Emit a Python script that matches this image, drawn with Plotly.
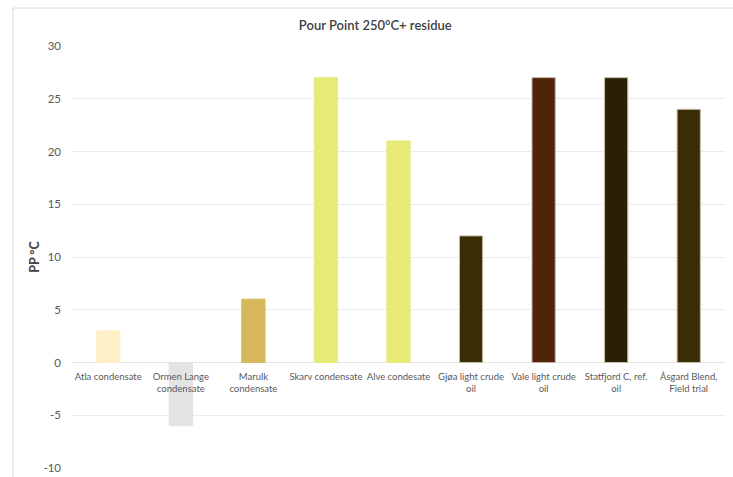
import plotly.graph_objects as go

categories = ["Atla condensate", "Ormen Lange<br>condensate", "Marulk<br>condensate",
              "Skarv condensate", "Alve condesate", "Gjøa light crude<br>oil",
              "Vale light crude<br>oil", "Statfjord C, ref.<br>oil", "Åsgard Blend,<br>Field trial"]
values = [3, -6, 6, 27, 21, 12, 27, 27, 24]
colors = ["#FFF0C8", "#E3E3E3", "#D6B75A", "#E8EA78", "#E8EA78",
          "#3A2C05", "#512409", "#2A2105", "#3A2C05"]
outlines = ["#FFF0C8", "#E3E3E3", "#D6B75A", "#E8EA78", "#E8EA78",
            "#C8BFA8", "#C8AFA0", "#C8BFA8", "#C8BFA8"]
y_ticks = [-10, -5, 0, 5, 10, 15, 20, 25, 30]
y_tick_labels = ["-10", "-5", "0", "5", "10", "15", "20", "25", "30"]

fig = go.Figure()
fig.add_trace(go.Bar(x=categories, y=values, marker=dict(color=colors, line=dict(color=outlines, width=1)),
                     showlegend=False, hoverinfo="skip"))

fig.update_layout(
    width=733, height=477,
    margin=dict(l=72, r=8, t=46, b=9),
    paper_bgcolor="white", plot_bgcolor="white",
    bargap=0.68,
    title=dict(text="Pour Point 250°C+ residue", x=0.512, xanchor="center", y=0.947, yanchor="middle",
               font=dict(family="Lato", size=13, color="#404040", weight=600)),
    font=dict(family="Lato", color="#595959"),
    xaxis=dict(anchor="free", position=0.25, showgrid=False, showline=False, zeroline=False,
               automargin=False,
               ticks="outside", ticklen=5, tickcolor="rgba(0,0,0,0)",
               tickfont=dict(size=9.5, color="#595959", family="Lato"), tickangle=0),
    yaxis=dict(range=[-10, 30], tickvals=y_ticks, ticktext=y_tick_labels,
               showgrid=True, gridcolor="#EBEBEB", gridwidth=1,
               automargin=False,
               zeroline=True, zerolinecolor="#E3E3E3", zerolinewidth=1, showline=False,
               ticks="", ticklabelstandoff=10,
               tickfont=dict(size=11.5, color="#595959", family="Lato"),
               title=dict(text="PP °C", standoff=1, font=dict(size=12.5, color="#404040", family="Lato", weight="bold"))),
    shapes=[
        dict(type="line", xref="paper", yref="paper", x0=-0.0904, x1=1.1, y0=1.09, y1=1.09,
             line=dict(color="#D9D9D9", width=1)),
        dict(type="line", xref="paper", yref="paper", x0=-0.0904, x1=-0.0904, y0=1.09, y1=-0.1,
             line=dict(color="#D9D9D9", width=1)),
    ],
)

fig.write_html("out.html", config={"displayModeBar": False},
               post_script="document.body.style.margin='0';document.body.style.overflow='hidden';")
